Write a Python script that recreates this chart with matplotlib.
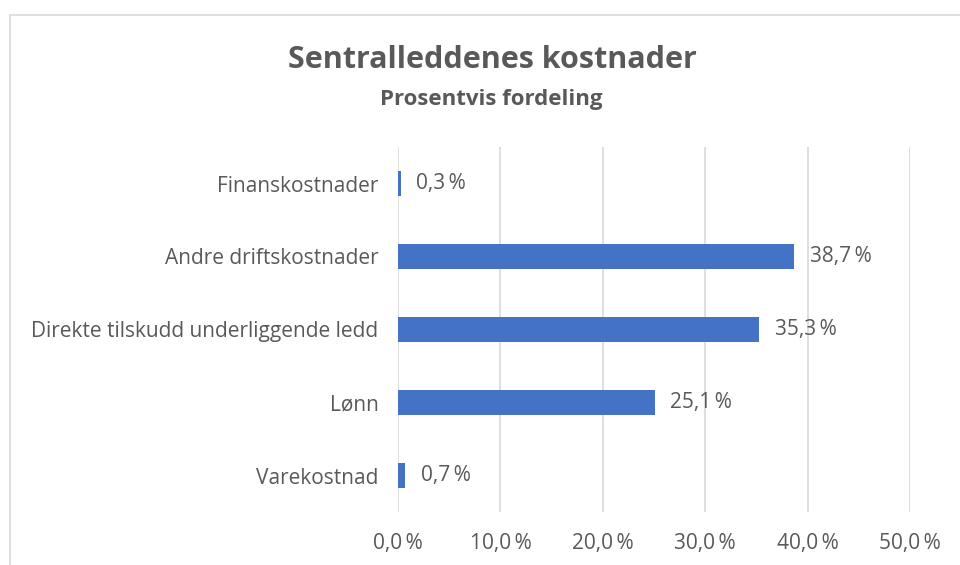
import matplotlib.pyplot as plt
from matplotlib.patches import Rectangle
from matplotlib.ticker import FuncFormatter

plt.rcParams['font.family'] = ['Open Sans', 'DejaVu Sans']

categories = ['Varekostnad', 'Lønn', 'Direkte tilskudd underliggende ledd',
              'Andre driftskostnader', 'Finanskostnader']
values = [0.7, 25.1, 35.3, 38.7, 0.3]
x_ticks = [0, 10, 20, 30, 40, 50]

text_color = '#595959'
bar_color = '#4472C4'
grid_color = '#d9d9d9'


def pct(v):
    return f'{v:.1f}\u2009%'.replace('.', ',')


fig = plt.figure(figsize=(9.6, 5.65), dpi=100)
ax = fig.add_axes([398/960, 1 - 512/565, 512/960, 365/565])

# chart area border
fig.patches.append(Rectangle((10/960, -0.1), 1.2, (565 - 15)/565 + 0.1,
                             transform=fig.transFigure, fill=False,
                             edgecolor=grid_color, lw=1.2))

ypos = range(len(categories))
ax.barh(ypos, values, height=0.35, color=bar_color, zorder=3)
for y, v in zip(ypos, values):
    ax.text(v + 1.5, y, pct(v), va='center', ha='left',
            fontsize=15, color=text_color)

ax.set_xlim(0, 50)
ax.set_ylim(-0.5, 4.5)
ax.set_xticks(x_ticks)
ax.xaxis.set_major_formatter(FuncFormatter(lambda v, p: pct(v)))
ax.set_yticks(list(ypos))
ax.set_yticklabels(categories)
ax.tick_params(axis='both', length=0, labelsize=15, labelcolor=text_color)
ax.tick_params(axis='y', pad=14)
ax.tick_params(axis='x', pad=15)
ax.grid(axis='x', color=grid_color, lw=1.2, zorder=0)
for s in ax.spines.values():
    s.set_visible(False)

fig.text(492/960, 1 - 60/565, 'Sentralleddenes kostnader', ha='center', va='center',
         fontsize=22, fontweight='bold', color=text_color)
fig.text(491/960, 1 - 99/565, 'Prosentvis fordeling', ha='center', va='center',
         fontsize=16, fontweight='bold', color=text_color)

fig.savefig('out.png', dpi=100)
